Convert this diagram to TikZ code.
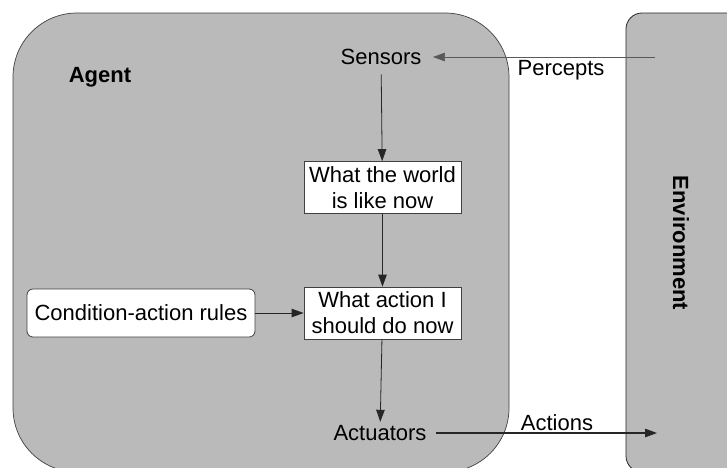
\documentclass[tikz,border=0pt]{standalone}
\usepackage{fontspec}
\setmainfont{Liberation Sans}
\usetikzlibrary{arrows.meta}

\begin{document}
\begin{tikzpicture}[x=1pt,y=-1pt,
		rotulo/.style={font=\fontsize{22}{26}\selectfont},
		caixa/.style={rotulo, draw=black!75, fill=white, line width=0.8pt, align=center,
			minimum width=157pt, minimum height=52pt, inner sep=0pt},
		seta/.style={-{Triangle[length=12pt,width=8.5pt]}, line width=0.8pt, black!85}]
		\useasboundingbox (0,0) rectangle (727,467);
		
		% Agente e ambiente
		\draw[black!75, fill=black!27, line width=0.7pt, rounded corners=64pt] (13,13) rectangle (509,472);
		\draw[black!85, fill=black!27, line width=0.8pt, rounded corners=16pt] (626,13) rectangle (760,472);
		
		% Rótulos
		\node[rotulo, font=\fontsize{22}{26}\selectfont\bfseries] (agente) at (100,77) {Agent};
		\node[rotulo, font=\fontsize{22}{26}\selectfont\bfseries, rotate=-90] (ambiente) at (681,243) {Environment};
		\node[rotulo] (percepcoes) at (561,70) {Percepts};
		\node[rotulo] (acoes) at (557,423) {Actions};
		
		% Sensores, caixas e atuadores
		\node[rotulo] (sensores) at (381,57) {Sensors};
		\node[caixa] (mundo) at (382.5,187.5) {What the world\\is like now};
		\node[caixa] (acao) at (382.5,313) {What action I\\should do now};
		\node[caixa, rounded corners=6pt, minimum width=228pt, minimum height=48pt] (regras) at (141,313) {Condition-action rules};
		\node[rotulo] (atuadores) at (380,433) {Actuators};
		
		% Setas
		\coordinate (entrada) at (655,57);
		\coordinate (saida) at (657,433);
		\draw[seta, black!65, line width=0.6pt, shorten >=8pt] (entrada) -- (sensores);
		\draw[seta, shorten <=6pt] (sensores) -- (mundo);
		\draw[seta] (mundo) -- (acao);
		\draw[seta] (regras) -- (acao);
		\draw[seta] (acao) -- (atuadores);
		\draw[seta, line width=1.2pt, shorten <=6pt] (atuadores) -- (saida);
		
	\end{tikzpicture}
\end{document}
